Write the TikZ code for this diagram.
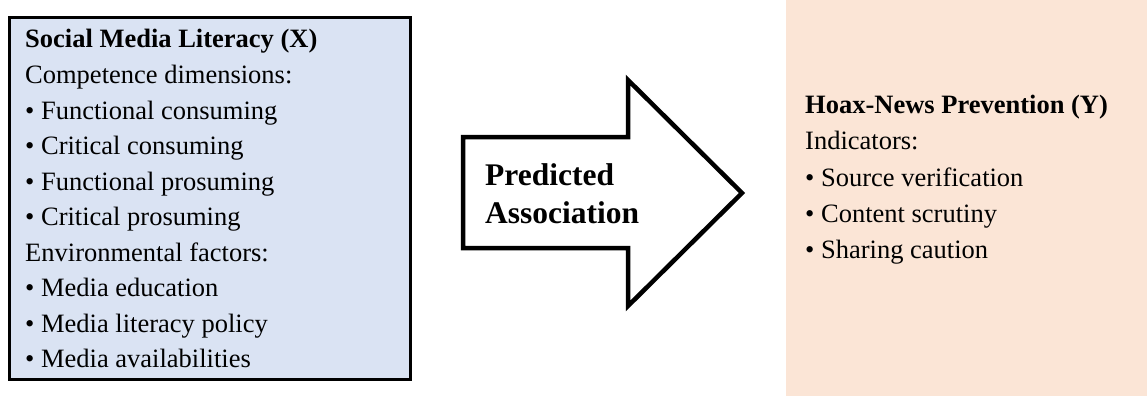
\documentclass[tikz,border=0pt]{standalone}
\usepackage{fontspec}
\setmainfont{Liberation Serif}
\definecolor{boxblue}{HTML}{DAE3F3}
\definecolor{boxpeach}{HTML}{FBE5D6}
\tikzset{
  txt/.style={anchor=base west, inner sep=0pt, font=\fontsize{26.5}{35.7}\selectfont},
  arrtxt/.style={anchor=base west, inner sep=0pt, font=\fontsize{31.5}{38}\selectfont\bfseries},
  xbox/.style={draw=black, line width=2.7pt, fill=boxblue},
  ybox/.style={fill=boxpeach},
  bigarrow/.style={draw=black, line width=4.5pt, fill=white, line join=miter}
}
\begin{document}
\begin{tikzpicture}[x=1pt,y=-1pt]
\useasboundingbox (0,0) rectangle (1147,396);
% left box
\draw[xbox] (9.5,17.5) rectangle (410.5,379.5);
\node[txt] (x0) at (25,48) {\textbf{Social Media Literacy (X)}};
\node[txt] (x1) at (25,83.5) {Competence dimensions:};
\node[txt] (x2) at (25,119) {• Functional consuming};
\node[txt] (x3) at (25,154.5) {• Critical consuming};
\node[txt] (x4) at (25,190) {• Functional prosuming};
\node[txt] (x5) at (25,225.5) {• Critical prosuming};
\node[txt] (x6) at (25,261) {Environmental factors:};
\node[txt] (x7) at (25,296.5) {• Media education};
\node[txt] (x8) at (25,332) {• Media literacy policy};
\node[txt] (x9) at (25,367.5) {• Media availabilities};
% arrow
\draw[bigarrow] (463,137) -- (628,137) -- (628,80) -- (742,193) -- (628,306) -- (628,248) -- (463,248) -- cycle;
\node[arrtxt] (a1) at (485,185) {Predicted};
\node[arrtxt] (a2) at (485,223) {Association};
% right box
\fill[ybox] (786,0) rectangle (1147,396);
\node[txt] (y0) at (805,113) {\textbf{Hoax-News Prevention (Y)}};
\node[txt] (y1) at (805,149) {Indicators:};
\node[txt] (y2) at (805,186) {• Source verification};
\node[txt] (y3) at (805,222) {• Content scrutiny};
\node[txt] (y4) at (805,258) {• Sharing caution};
\end{tikzpicture}
\end{document}
